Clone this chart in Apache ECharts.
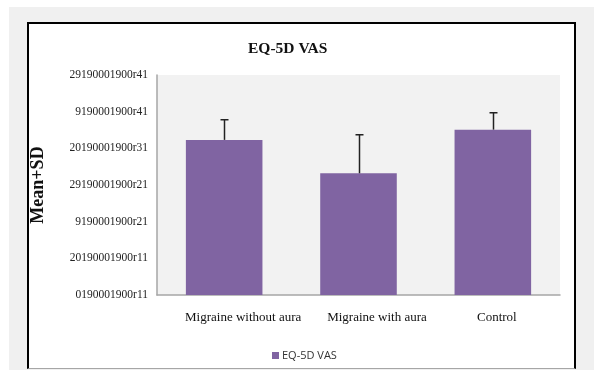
<!DOCTYPE html>
<html><head><meta charset="utf-8">
<script src="https://cdn.jsdelivr.net/npm/echarts@6/dist/echarts.min.js"></script>
<style>
html,body{margin:0;padding:0;background:#fff;}
#bg{position:absolute;left:9px;top:7px;width:585px;height:363px;background:#f0f0f0;}
#frame{position:absolute;left:27px;top:22px;width:545px;height:344px;background:#fff;border-left:2px solid #000;border-right:2px solid #000;border-top:2px solid #000;border-bottom:1px solid #a6a6a6;}
#chart{position:absolute;left:0;top:0;width:594px;height:370px;}
</style></head>
<body>
<div id="bg"></div><div id="frame"></div>
<div id="chart"></div>
<script>
var categories = ['Migraine without aura', 'Migraine with aura', 'Control'];
var meanValues = [4.23, 3.32, 4.51];
var sdValues = [0.55, 1.05, 0.46];
var yTickLabels = ['0190001900r11', '20190001900r11', '9190001900r21', '29190001900r21', '20190001900r31', '9190001900r41', '29190001900r41'];
var seriesName = 'EQ-5D VAS';
var titleText = 'EQ-5D VAS';
var yAxisTitle = 'Mean+SD';

var labelPad = [38, 37, 8];
var chart = echarts.init(document.getElementById('chart'), null, {renderer: 'canvas'});
var errData = meanValues.map(function (v, i) { return [i, v, v + sdValues[i]]; });
chart.setOption({
  animation: false,
  title: {text: titleText, left: 248, top: 41, padding: 0,
    textStyle: {fontFamily: 'Liberation Serif', fontWeight: 'bold', fontSize: 15.5, color: '#111'}},
  grid: {left: 157, right: 34, top: 75, bottom: 75, show: true, backgroundColor: '#f2f2f2', borderWidth: 0},
  legend: {left: 267, top: 345, itemWidth: 7, itemHeight: 7, itemGap: 10,
    textStyle: {fontFamily: 'Open Sans', fontSize: 11, color: '#333', padding: [0,0,0,-2]},
    data: [{name: seriesName, icon: 'rect'}]},
  xAxis: {type: 'category',
    data: categories.map(function (c, i) { return {value: c, textStyle: {padding: [0, 0, 0, labelPad[i]]}}; }),
    axisLine: {lineStyle: {color: '#a6a6a6', width: 1.5}}, axisTick: {show: false},
    axisLabel: {fontFamily: 'Liberation Serif', fontSize: 13, color: '#111', margin: 16, interval: 0}},
  yAxis: {type: 'value', min: 0, max: 6, interval: 1,
    axisLine: {show: true, lineStyle: {color: '#a6a6a6', width: 1.5}}, axisTick: {show: false},
    splitLine: {show: false},
    axisLabel: {fontFamily: 'Liberation Serif', fontSize: 11.5, color: '#222', margin: 9,
      formatter: function (v) { return yTickLabels[Math.round(v)]; }}},
  graphic: [{type: 'text', x: 38, y: 185, rotation: Math.PI / 2,
    style: {text: yAxisTitle, font: 'bold 18px "Liberation Serif"', fill: '#111', align: 'center', verticalAlign: 'middle'}}],
  series: [
    {name: seriesName, type: 'bar', data: meanValues, barWidth: '57%', itemStyle: {color: '#8064a2'}},
    {type: 'custom', data: errData, z: 10,
      renderItem: function (params, api) {
        var base = api.coord([api.value(0), api.value(1)]);
        var top = api.coord([api.value(0), api.value(2)]);
        var x = Math.round(base[0]) + 0.5;
        return {type: 'group', children: [
          {type: 'line', shape: {x1: x, y1: base[1], x2: x, y2: top[1]}, style: {stroke: '#222', lineWidth: 1.5}},
          {type: 'line', shape: {x1: x - 4, y1: top[1], x2: x + 4, y2: top[1]}, style: {stroke: '#222', lineWidth: 1.5}}
        ]};
      }}
  ]
});
</script>
</body></html>
